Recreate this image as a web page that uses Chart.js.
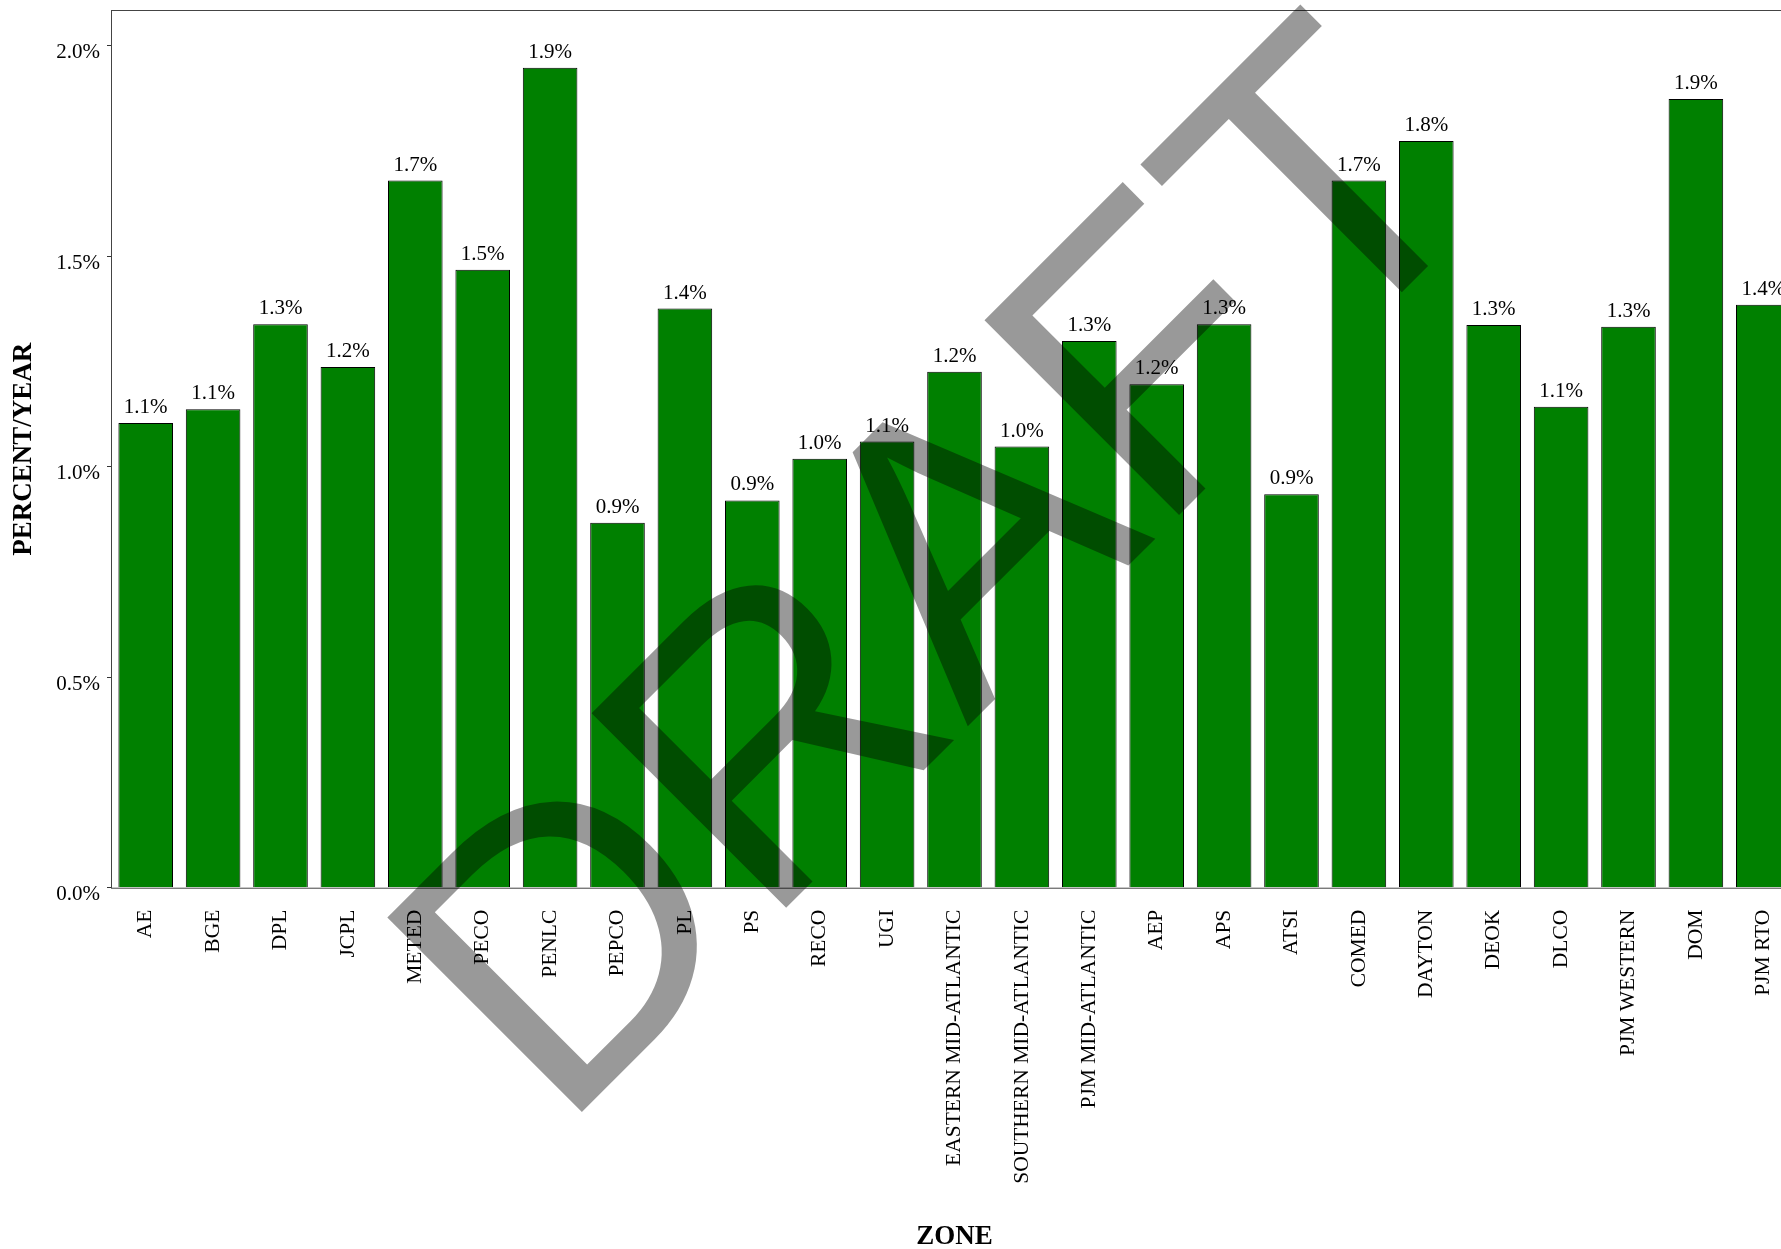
<!DOCTYPE html>
<html>
<head>
<meta charset="utf-8">
<script src="https://cdn.jsdelivr.net/npm/chart.js@4.4.1/dist/chart.umd.min.js"></script>
<style>
  html, body { margin: 0; padding: 0; background: #fff; overflow: hidden; }
  /* plot runs a little past the right edge of the window, like the original */
  #wrap { position: relative; width: 1797px; height: 1249px; }
</style>
</head>
<body>
<div id="wrap"><canvas id="grafico"></canvas></div>
<script>
const zones = ['AE', 'BGE', 'DPL', 'JCPL', 'METED', 'PECO', 'PENLC', 'PEPCO', 'PL', 'PS', 'RECO', 'UGI',
  'EASTERN MID-ATLANTIC', 'SOUTHERN MID-ATLANTIC', 'PJM MID-ATLANTIC', 'AEP', 'APS', 'ATSI', 'COMED',
  'DAYTON', 'DEOK', 'DLCO', 'PJM WESTERN', 'DOM', 'PJM RTO'];
const growth = [1.104, 1.137, 1.339, 1.237, 1.680, 1.468, 1.948, 0.867, 1.376, 0.920, 1.019, 1.060,
  1.226, 1.048, 1.299, 1.196, 1.339, 0.935, 1.680, 1.774, 1.337, 1.143, 1.333, 1.874, 1.385];
const yTicks = [0, 0.5, 1.0, 1.5, 2.0];
const xTitle = 'ZONE';
const yTitle = 'PERCENT/YEAR';
const watermark = 'DRAFT';

const serif = '"Liberation Serif", "Times New Roman", serif';

// box around the plot area
const frame = {
  id: 'frame',
  afterDatasetsDraw(chart) {
    const { ctx, chartArea: a } = chart;
    ctx.save();
    ctx.strokeStyle = '#444';
    ctx.lineWidth = 1;
    ctx.strokeRect(a.left - 0.5, a.top - 0.5, a.right - a.left + 1, a.bottom - a.top + 1);
    ctx.restore();
  }
};

// value labels above each bar
const barLabels = {
  id: 'barLabels',
  afterDatasetsDraw(chart) {
    const ctx = chart.ctx;
    const meta = chart.getDatasetMeta(0);
    ctx.save();
    ctx.font = '21px ' + serif;
    ctx.fillStyle = '#000';
    ctx.textAlign = 'center';
    ctx.textBaseline = 'alphabetic';
    meta.data.forEach((bar, i) => {
      ctx.fillText(growth[i].toFixed(1) + '%', bar.x, bar.y - 10);
    });
    ctx.restore();
  }
};

// DRAFT stamp across the whole picture
const stamp = {
  id: 'stamp',
  afterDraw(chart) {
    const ctx = chart.ctx;
    ctx.save();
    ctx.translate(558.7, 1135.3);
    ctx.rotate(-Math.PI / 4);
    ctx.font = '400px "Liberation Sans", Arial, sans-serif';
    ctx.fillStyle = 'rgba(0, 0, 0, 0.4)';
    ctx.textAlign = 'left';
    ctx.textBaseline = 'alphabetic';
    ctx.fillText(watermark, 0, 0);
    ctx.restore();
  }
};

const ctx = document.getElementById('grafico').getContext('2d');

new Chart(ctx, {
  type: 'bar',
  data: {
    labels: zones,
    datasets: [{
      data: growth,
      backgroundColor: '#008000',
      borderColor: '#000',
      borderWidth: 1,
      categoryPercentage: 1,
      barPercentage: 0.81
    }]
  },
  options: {
    responsive: true,
    maintainAspectRatio: false,
    animation: false,
    layout: { padding: { top: 11, left: 0, right: 0, bottom: 0 } },
    plugins: {
      legend: { display: false },
      tooltip: { enabled: false }
    },
    scales: {
      x: {
        offset: true,
        border: { display: false },
        grid: { display: false, drawTicks: false },
        ticks: {
          autoSkip: false,
          minRotation: 90,
          maxRotation: 90,
          padding: 22,
          color: '#000',
          font: { family: serif, size: 21.5 }
        },
        title: {
          display: true,
          text: xTitle,
          color: '#000',
          font: { family: serif, size: 27, weight: 'bold', lineHeight: 0.85 },
          padding: { top: 0, bottom: 0 }
        },
        afterFit: s => {
          s.height = 361.3;
          s.paddingLeft = 0;
          s.paddingRight = 0;
        }
      },
      y: {
        min: 0,
        max: 2.083,
        border: { display: false },
        grid: { drawOnChartArea: false, drawTicks: true, tickLength: 5, color: '#333' },
        afterBuildTicks: s => { s.ticks = yTicks.map(v => ({ value: v })); },
        ticks: {
          padding: 7,
          labelOffset: 7,
          color: '#000',
          font: { family: serif, size: 21 },
          callback: v => v.toFixed(1) + '%'
        },
        title: {
          display: true,
          text: yTitle,
          color: '#000',
          font: { family: serif, size: 27, weight: 'bold', lineHeight: 1 },
          padding: { top: 11, bottom: 0 }
        },
        afterFit: s => {
          s.width = 112;
          s.paddingTop = 0;
          s.paddingBottom = 0;
        }
      }
    }
  },
  plugins: [frame, barLabels, stamp]
});
</script>
</body>
</html>
